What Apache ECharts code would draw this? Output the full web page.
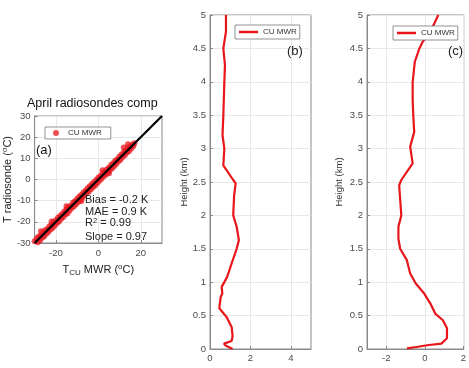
<!DOCTYPE html>
<html><head><meta charset="utf-8">
<script src="https://cdn.jsdelivr.net/npm/echarts@6/dist/echarts.min.js"></script>
<style>html,body{margin:0;padding:0;background:#fff}#c{width:469px;height:368px}</style>
</head><body><div id="c"></div>
<script>
// Panel (a): scatter of T_CU MWR vs T radiosonde (°C)
const scatX = [-30,-29.5,-29,-28.5,-28,-27.5,-27,-26.5,-26,-25.5,-25,-24.5,-24,-23.5,-23,-22.5,-22,-21.5,-21,-20.5,-20,-19.5,-19,-18.5,-18,-17.5,-17,-16.5,-16,-15.5,-15,-14.5,-14,-13.5,-13,-12.5,-12,-11.5,-11,-10.5,-10,-9.5,-9,-8.5,-8,-7.5,-7,-6.5,-6,-5.5,-5,-4.5,-4,-3.5,-3,-2.5,-2,-1.5,-1,-0.5,0,0.5,1,1.5,2,2.5,3,3.5,4,4.5,5,5.5,6,6.5,7,7.5,8,8.5,9,9.5,10,10.5,11,11.5,12,12.5,13,13.5,14,14.5,15,15.5,16,16.5,17,-27,-22,-8,2,12,14,-15,5];
const scatY = [-29.2,-30.5,-27.8,-29.6,-26.9,-28.8,-26.4,-27.5,-25.1,-26.8,-24.0,-25.6,-23.4,-24.7,-22.1,-23.6,-21.4,-22.8,-20.2,-21.7,-19.3,-20.6,-18.1,-19.8,-17.2,-18.6,-16.3,-17.7,-15.1,-16.5,-14.2,-15.9,-13.1,-14.6,-12.4,-13.5,-11.0,-12.6,-10.3,-11.7,-9.2,-10.6,-8.1,-9.7,-7.3,-8.5,-6.1,-7.6,-5.3,-6.4,-4.1,-5.7,-3.2,-4.6,-2.1,-3.5,-1.3,-2.8,-0.2,-1.6,0.8,-0.6,1.7,0.4,2.8,1.5,3.6,2.3,4.7,3.4,5.6,4.5,6.8,5.3,7.7,6.4,8.9,7.5,9.6,8.6,10.9,9.5,11.8,10.7,12.9,11.6,13.7,12.8,14.9,13.5,15.6,14.7,16.4,15.8,17.1,-24.5,-19.8,-10.2,4.4,15.1,16.6,-12.6,2.9];
const fitX = [-30, 30];
const fitY = [-30, 30];
const aTicksX = [-20, 0, 20];

// Panel (b): profile (x value vs height km)
const bHeight = [5,4.75,4.5,4.25,4,3.5,3.2,3,2.75,2.53,2.48,2.28,2.0,1.83,1.63,1.5,1.28,1.08,0.93,0.83,0.78,0.61,0.48,0.33,0.19,0.12,0.08,0.05,0];
const bValue  = [0.79,0.79,0.66,0.74,0.71,0.66,0.62,0.71,0.66,1.15,1.27,1.19,1.15,1.32,1.43,1.32,1.07,0.85,0.58,0.61,0.53,0.46,0.82,1.07,1.12,1.07,0.69,0.79,1.12];
const bTicksX = [0, 2, 4];

// Panel (c): profile
const cHeight = [5,4.75,4.6,4.5,4.3,4.0,3.73,3.5,3.25,3.03,2.78,2.53,2.45,2.0,1.83,1.65,1.5,1.33,1.13,0.98,0.83,0.68,0.53,0.43,0.31,0.16,0.08,0.06,0.03,0.01];
const cValue  = [0.70,0.29,-0.11,-0.28,-0.52,-0.63,-0.63,-0.60,-0.55,-0.76,-0.63,-1.22,-1.33,-1.22,-1.37,-1.37,-1.28,-0.93,-0.76,-0.47,-0.03,0.29,0.54,0.94,1.15,1.15,0.86,0.21,-0.44,-0.93];
const cTicksX = [-2, 0, 2];

const RED = '#e8161b';
const FONT = 'Liberation Sans, Arial, Helvetica, sans-serif';
const axisCol = '#8a8a8a';
const labCol = '#4a4a4a';
const gridCol = '#e8e8e8';

function baseAxis(extra) {
  return Object.assign({
    axisLine: {show: true, onZero: false, lineStyle: {color: axisCol, width: 1}},
    axisTick: {show: true, inside: true, length: 3, lineStyle: {color: axisCol}},
    axisLabel: {color: labCol, fontSize: 9.5, fontFamily: FONT, margin: 4},
    splitLine: {show: true, lineStyle: {color: gridCol, width: 1}}
  }, extra);
}

const chart = echarts.init(document.getElementById('c'), null, {renderer: 'canvas'});
const option = {
  animation: false,
  textStyle: {fontFamily: FONT},
  grid: [
    {left: 34, top: 116, width: 128, height: 127, show: true, borderColor: axisCol, borderWidth: 1, backgroundColor: 'transparent'},
    {left: 210, top: 15, width: 101, height: 334, show: true, borderColor: axisCol, borderWidth: 1},
    {left: 367, top: 15, width: 103, height: 334, show: true, borderColor: axisCol, borderWidth: 1}
  ],
  xAxis: [
    baseAxis({gridIndex: 0, type: 'value', min: -30, max: 30,
      axisTick: {show: true, inside: true, length: 3, lineStyle: {color: axisCol}, customValues: aTicksX},
      axisLabel: {color: labCol, fontSize: 9.5, fontFamily: FONT, margin: 5, customValues: aTicksX},
      name: '{n|T}{sub|CU}{n| MWR (}{sup|o}{n|C)}', nameLocation: 'middle', nameGap: 20,
      nameTextStyle: {rich: {
        n: {fontSize: 11, color: '#222', fontFamily: FONT},
        sub: {fontSize: 8, color: '#222', fontFamily: FONT, verticalAlign: 'bottom', padding: [6, 0, 0, 0]},
        sup: {fontSize: 8, color: '#222', fontFamily: FONT, verticalAlign: 'top', padding: [0, 0, 5, 0]}
      }}
    }),
    baseAxis({gridIndex: 1, type: 'value', min: 0, max: 5,
      axisTick: {show: true, inside: true, length: 3, lineStyle: {color: axisCol}, customValues: bTicksX},
      axisLabel: {color: labCol, fontSize: 9.5, fontFamily: FONT, margin: 4, customValues: bTicksX}
    }),
    baseAxis({gridIndex: 2, type: 'value', min: -3, max: 2.02,
      axisTick: {show: true, inside: true, length: 3, lineStyle: {color: axisCol}, customValues: cTicksX},
      axisLabel: {color: labCol, fontSize: 9.5, fontFamily: FONT, margin: 4, customValues: cTicksX}
    })
  ],
  yAxis: [
    baseAxis({gridIndex: 0, type: 'value', min: -30, max: 30, interval: 10,
      name: '{n|T radiosonde (}{sup|o}{n|C)}', nameLocation: 'middle', nameGap: 19,
      nameTextStyle: {rich: {
        n: {fontSize: 11, color: '#222', fontFamily: FONT},
        sup: {fontSize: 8, color: '#222', fontFamily: FONT, verticalAlign: 'top', padding: [0, 0, 5, 0]}
      }}
    }),
    baseAxis({gridIndex: 1, type: 'value', min: 0, max: 5, interval: 0.5,
      name: 'Height (km)', nameLocation: 'middle', nameGap: 21,
      nameTextStyle: {fontSize: 9.5, color: '#333', fontFamily: FONT}}),
    baseAxis({gridIndex: 2, type: 'value', min: 0, max: 5, interval: 0.5,
      name: 'Height (km)', nameLocation: 'middle', nameGap: 23,
      nameTextStyle: {fontSize: 9.5, color: '#333', fontFamily: FONT}})
  ],
  legend: [
    {data: ['a'], left: 45, top: 127, orient: 'vertical', formatter: () => 'CU MWR',
     borderColor: '#777', borderWidth: 0.8, borderRadius: 0, padding: [2, 9, 2, 8], backgroundColor: '#fff',
     itemWidth: 14, itemHeight: 6, textStyle: {fontSize: 8, color: '#333', fontFamily: FONT}},
    {data: [{name: 'b', icon: 'rect'}], left: 235, top: 25, formatter: () => 'CU MWR',
     borderColor: '#777', borderWidth: 0.8, borderRadius: 0, padding: [3, 3, 3, 4], backgroundColor: '#fff',
     itemWidth: 19, itemHeight: 2.5, itemGap: 2, textStyle: {fontSize: 8, color: '#333', fontFamily: FONT}},
    {data: [{name: 'c', icon: 'rect'}], left: 393, top: 26, formatter: () => 'CU MWR',
     borderColor: '#777', borderWidth: 0.8, borderRadius: 0, padding: [3, 3, 3, 4], backgroundColor: '#fff',
     itemWidth: 19, itemHeight: 2.5, itemGap: 2, textStyle: {fontSize: 8, color: '#333', fontFamily: FONT}}
  ],
  series: [
    {name: 'a', type: 'scatter', xAxisIndex: 0, yAxisIndex: 0,
     data: scatX.map((x, i) => [x, scatY[i]]), symbol: 'circle', symbolSize: 6,
     itemStyle: {color: RED, opacity: 0.75}, z: 2},
    {name: 'fit', type: 'line', xAxisIndex: 0, yAxisIndex: 0,
     data: fitX.map((x, i) => [x, fitY[i]]), symbol: 'none',
     lineStyle: {color: '#000', width: 2.2}, z: 3},
    {name: 'b', type: 'line', xAxisIndex: 1, yAxisIndex: 1,
     data: bHeight.map((h, i) => [bValue[i], h]), symbol: 'none',
     lineStyle: {color: RED, width: 2.2}, itemStyle: {color: RED}},
    {name: 'c', type: 'line', xAxisIndex: 2, yAxisIndex: 2,
     data: cHeight.map((h, i) => [cValue[i], h]), symbol: 'none',
     lineStyle: {color: RED, width: 2.2}, itemStyle: {color: RED}}
  ],
  graphic: [
    {type: 'text', z: 100, left: 27, top: 97, style: {text: 'April radiosondes comp', fontSize: 12.5, fill: '#111', fontFamily: FONT}},
    {type: 'text', z: 100, left: 36, top: 144, style: {text: '(a)', fontSize: 13, fill: '#111', fontFamily: FONT}},
    {type: 'text', z: 100, left: 85, top: 194, style: {text: 'Bias = -0.2 K', fontSize: 11, fill: '#222', fontFamily: FONT}},
    {type: 'text', z: 100, left: 85, top: 206, style: {text: 'MAE = 0.9 K', fontSize: 11, fill: '#222', fontFamily: FONT}},
    {type: 'text', z: 100, left: 85, top: 217, style: {text: '{n|R}{sup|2}{n| = 0.99}', fill: '#222', fontFamily: FONT,
      rich: {n: {fontSize: 11, fill: '#222', fontFamily: FONT, verticalAlign: 'bottom'},
             sup: {fontSize: 7.5, fill: '#222', fontFamily: FONT, verticalAlign: 'top'}}}},
    {type: 'text', z: 100, left: 85, top: 231, style: {text: 'Slope = 0.97', fontSize: 11, fill: '#222', fontFamily: FONT}},
    {type: 'text', z: 100, left: 287, top: 45, style: {text: '(b)', fontSize: 13, fill: '#222', fontFamily: FONT}},
    {type: 'text', z: 100, left: 448, top: 45, style: {text: '(c)', fontSize: 13, fill: '#222', fontFamily: FONT}}
  ]
};
chart.setOption(option);
</script></body></html>
